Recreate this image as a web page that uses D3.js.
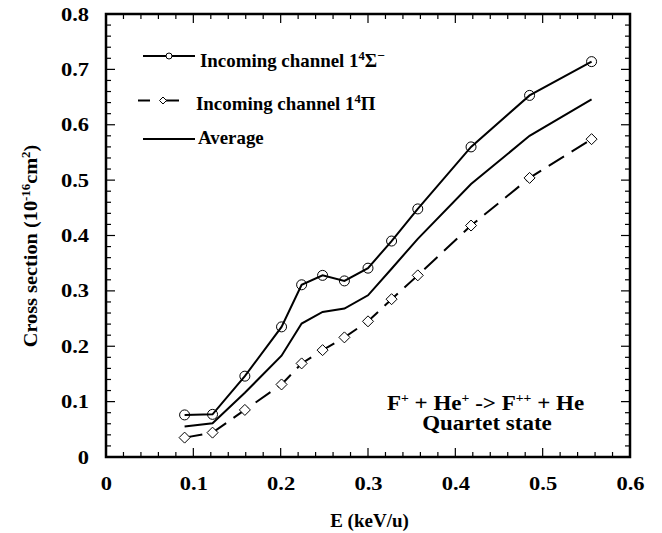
<!DOCTYPE html>
<html><head><meta charset="utf-8">
<script src="https://cdn.jsdelivr.net/npm/d3@7"></script>
<style>body{margin:0;background:#fff}svg{display:block}</style>
</head><body>
<script>
const energy = [0.090,0.122,0.159,0.201,0.224,0.248,0.273,0.300,0.327,0.357,0.418,0.485,0.556];
const sigmaSeries = [0.076,0.077,0.146,0.235,0.311,0.328,0.318,0.341,0.390,0.448,0.560,0.653,0.714];
const piSeries = [0.035,0.044,0.085,0.131,0.169,0.193,0.216,0.245,0.285,0.328,0.418,0.504,0.574];
const avgSeries = [0.055,0.061,0.116,0.183,0.241,0.262,0.268,0.292,0.340,0.394,0.493,0.580,0.646];
const xTicks = [0,0.1,0.2,0.3,0.4,0.5,0.6];
const yTicks = [0,0.1,0.2,0.3,0.4,0.5,0.6,0.7,0.8];

const FONT = "Liberation Serif";
const W=662,H=533;
const svg=d3.select("body").append("svg").attr("width",W).attr("height",H)
  .attr("font-family",FONT).attr("font-weight","bold");
const L=106,R=630,T=14,B=457;
const x=d3.scaleLinear().domain([0,0.6]).range([L,R]);
const y=d3.scaleLinear().domain([0,0.8]).range([B,T]);

const minorX=d3.range(0,0.6001,0.02), minorY=d3.range(0,0.8001,0.02);
const isMajor=v=>Math.abs(v*10-Math.round(v*10))<1e-6;
const tk=svg.append("g").attr("stroke","#000").attr("stroke-width",1.2);
minorX.forEach(v=>{const len=isMajor(v)?9:5;
  tk.append("line").attr("x1",x(v)).attr("x2",x(v)).attr("y1",B).attr("y2",B-len);
  tk.append("line").attr("x1",x(v)).attr("x2",x(v)).attr("y1",T).attr("y2",T+len);});
minorY.forEach(v=>{const len=isMajor(v)?9:5;
  tk.append("line").attr("y1",y(v)).attr("y2",y(v)).attr("x1",L).attr("x2",L+len);
  tk.append("line").attr("y1",y(v)).attr("y2",y(v)).attr("x1",R).attr("x2",R-len);});

svg.append("rect").attr("x",L).attr("y",T).attr("width",R-L).attr("height",B-T)
  .attr("fill","none").attr("stroke","#000").attr("stroke-width",2.5);

const TSX=1.25;
const fmt=d=>d===0?"0":d3.format(".1f")(d);
const xAxis=svg.append("g").attr("transform",`translate(0,${B})`)
  .call(d3.axisBottom(x).tickValues(xTicks).tickSize(0).tickPadding(0).tickFormat(fmt));
const yAxis=svg.append("g").attr("transform",`translate(${L},0)`)
  .call(d3.axisLeft(y).tickValues(yTicks).tickSize(0).tickPadding(0).tickFormat(fmt));
[xAxis,yAxis].forEach(a=>{a.select(".domain").remove();a.attr("font-family",FONT).attr("font-size",18);});
xAxis.selectAll("text").attr("y",null).attr("dy",null).attr("transform",`translate(0,33) scale(${TSX},1)`);
yAxis.selectAll("text").attr("x",null).attr("dy",null).attr("transform",`translate(-17,6) scale(${TSX},1)`);

const line=d3.line().x(d=>x(d[0])).y(d=>y(d[1]));
const pts=s=>energy.map((e,i)=>[e,s[i]]);
svg.append("path").datum(pts(avgSeries)).attr("d",line).attr("fill","none").attr("stroke","#000").attr("stroke-width",2);
svg.append("path").datum(pts(sigmaSeries)).attr("d",line).attr("fill","none").attr("stroke","#000").attr("stroke-width",2);
svg.append("path").datum(pts(piSeries)).attr("d",line).attr("fill","none").attr("stroke","#000").attr("stroke-width",2).attr("stroke-dasharray","18,9");

svg.append("g").selectAll("circle").data(pts(sigmaSeries)).join("circle")
  .attr("cx",d=>x(d[0])).attr("cy",d=>y(d[1])).attr("r",5).attr("fill","none").attr("stroke","#000").attr("stroke-width",1);
const dia=(cx,cy,s)=>`M${cx},${cy-s}L${cx+s},${cy}L${cx},${cy+s}L${cx-s},${cy}Z`;
svg.append("g").selectAll("path").data(pts(piSeries)).join("path")
  .attr("d",d=>dia(x(d[0]),y(d[1]),5.5)).attr("fill","#fff").attr("stroke","#000").attr("stroke-width",1);

// text helper: horizontally stretched text anchored at (px,py)
function stext(px,py,size,sx,anchor,rot){
  return svg.append("text").attr("font-size",size).attr("text-anchor",anchor||"start")
    .attr("transform",`translate(${px},${py})${rot?` rotate(${rot})`:""} scale(${sx},1)`);
}

// legend
const lg=svg.append("g");
lg.append("line").attr("x1",143).attr("x2",195).attr("y1",56).attr("y2",56).attr("stroke","#000").attr("stroke-width",2);
lg.append("circle").attr("cx",169).attr("cy",56).attr("r",3).attr("fill","#fff").attr("stroke","#000").attr("stroke-width",1);
const t1=stext(200,67,18,1.05);
t1.append("tspan").text("Incoming channel 1");
t1.append("tspan").attr("dy",-7).attr("font-size",12).text("4");
t1.append("tspan").attr("dy",7).text("Σ");
t1.append("tspan").attr("dy",-7).attr("font-size",13).text("−");

lg.append("line").attr("x1",138).attr("x2",150).attr("y1",100.5).attr("y2",100.5).attr("stroke","#000").attr("stroke-width",2);
lg.append("line").attr("x1",166).attr("x2",179).attr("y1",100.5).attr("y2",100.5).attr("stroke","#000").attr("stroke-width",2);
lg.append("path").attr("d",dia(163,100.5,3.5)).attr("fill","#fff").attr("stroke","#000").attr("stroke-width",1);
const t2=stext(196,110,18,1.05);
t2.append("tspan").text("Incoming channel 1");
t2.append("tspan").attr("dy",-7).attr("font-size",12).text("4");
t2.append("tspan").attr("dy",7).text("Π");

lg.append("line").attr("x1",143).attr("x2",195).attr("y1",139).attr("y2",139).attr("stroke","#000").attr("stroke-width",2);
stext(198,144,18,1.05).text("Average");

// annotation
const a1=stext(485.5,410,20,1.15,"middle");
a1.append("tspan").text("F");
a1.append("tspan").attr("dy",-8).attr("font-size",12).text("+");
a1.append("tspan").attr("dy",8).text(" + He");
a1.append("tspan").attr("dy",-8).attr("font-size",12).text("+");
a1.append("tspan").attr("dy",8).text(" -> F");
a1.append("tspan").attr("dy",-8).attr("font-size",12).text("++");
a1.append("tspan").attr("dy",8).text(" + He");
stext(487,430,20,1.15,"middle").text("Quartet state");

// axis titles
stext(369.5,527,19,1.0,"middle").text("E (keV/u)");
const yt=stext(37,246,19,1.07,"middle",-90);
yt.append("tspan").text("Cross section (10");
yt.append("tspan").attr("dy",-7).attr("font-size",12).text("-16");
yt.append("tspan").attr("dy",7).text("cm");
yt.append("tspan").attr("dy",-7).attr("font-size",12).text("2");
yt.append("tspan").attr("dy",7).text(")");
</script>
</body></html>
